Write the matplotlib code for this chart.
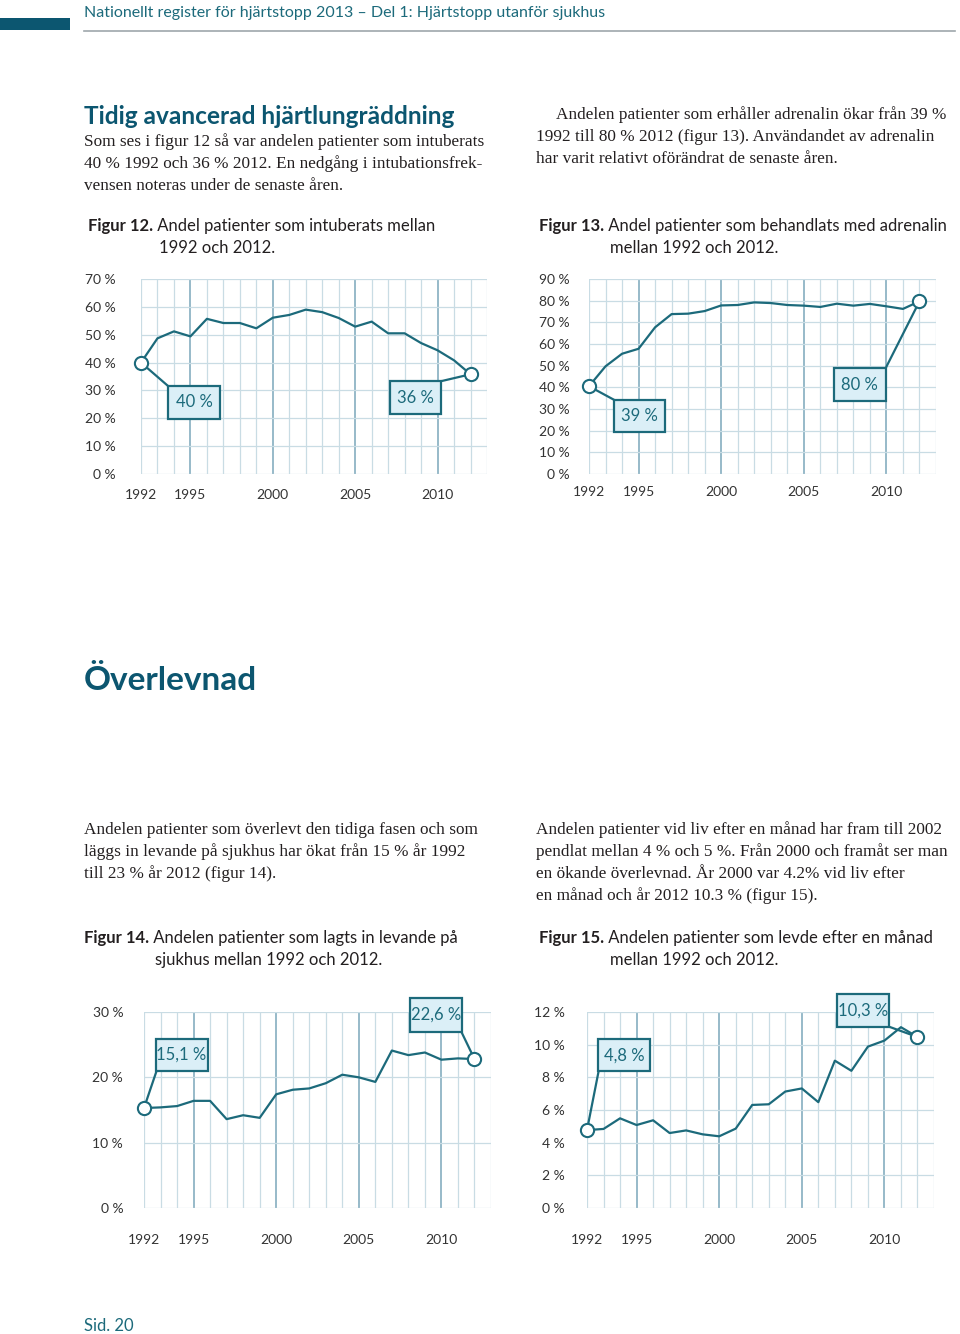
import numpy as np
import matplotlib
matplotlib.use("Agg")
import matplotlib.pyplot as plt
from matplotlib.patches import Rectangle

# Data (percent per year 1992-2012)
years = np.arange(1992, 2013)

intubated = [40, 48.7, 51.2, 49.4, 55.7, 54.2, 54.2, 52.3, 56.1, 57.1, 59.0,
             58.1, 56.0, 52.9, 54.7, 50.5, 50.5, 47.0, 44.4, 40.8, 35.8]
adrenalin = [40.5, 49.7, 55.5, 57.8, 67.7, 73.8, 74.0, 75.2, 77.8, 78.0, 79.2,
             78.9, 78.0, 77.7, 77.1, 78.6, 77.7, 78.5, 77.4, 76.2, 79.7]
admitted = [15.3, 15.4, 15.6, 16.4, 16.4, 13.6, 14.2, 13.8, 17.4, 18.1, 18.3,
            19.1, 20.4, 20.0, 19.3, 24.1, 23.4, 23.8, 22.7, 22.9, 22.8]
alive_month = [4.77, 4.84, 5.49, 5.08, 5.37, 4.59, 4.75, 4.51, 4.39, 4.86, 6.31,
               6.35, 7.13, 7.32, 6.48, 9.02, 8.40, 9.88, 10.25, 11.07, 10.47]

tick_years = [1992, 1995, 2000, 2005, 2010]

TEAL = '#1c6a7b'
DARK = '#0c5670'
BOX = '#dbeff7'
GRID = '#c9dce4'
GRID_MAJOR = '#8fb4c5'
INK = '#231f20'

SANS = 'Lato'
SERIF = 'Liberation Serif'

W, H = 960, 1334
fig = plt.figure(figsize=(W / 100, H / 100), dpi=100)
bg = fig.add_axes([0, 0, 1, 1])
bg.set_xlim(0, W)
bg.set_ylim(H, 0)
bg.axis('off')


def px_axes(left, top, right, bottom):
    return fig.add_axes([left / W, 1 - bottom / H, (right - left) / W, (bottom - top) / H])


def line_chart(rect, values, ymax, ystep, callouts, xpad, ypad):
    ax = px_axes(*rect)
    ax.set_xlim(1992, 2013)
    ax.set_ylim(0, ymax)
    for s in ax.spines.values():
        s.set_visible(False)
    for y in range(1992, 2014):
        major = y % 5 == 0
        ax.axvline(y, color=GRID_MAJOR if major else GRID, lw=1.3 if major else 0.9, zorder=0)
    yt = np.arange(0, ymax + ystep / 2, ystep)
    for v in yt:
        ax.axhline(v, color=GRID, lw=0.9, zorder=0)
    ax.set_yticks(yt)
    ax.set_yticklabels(['%d %%' % v for v in yt])
    ax.set_xticks(tick_years)
    ax.set_xticklabels([str(y) for y in tick_years])
    ax.tick_params(length=0, labelsize=10, labelcolor='#333333')
    ax.tick_params(axis='x', pad=xpad)
    ax.tick_params(axis='y', pad=ypad)
    for lab in ax.get_xticklabels() + ax.get_yticklabels():
        lab.set_family(SANS)

    ax.plot(years, values, color=TEAL, lw=1.6, zorder=3, solid_joinstyle='round')

    for text, idx, (x0, x1, y0, y1), (cx, cy) in callouts:
        ax.plot([years[idx], cx], [values[idx], cy], color=TEAL, lw=1.6, zorder=3, clip_on=False)
        ax.add_patch(Rectangle((x0, y0), x1 - x0, y1 - y0, facecolor=BOX, edgecolor=TEAL,
                               lw=1.6, zorder=4, clip_on=False))
        ax.text((x0 + x1) / 2, (y0 + y1) / 2, text, ha='center', va='center', color=TEAL,
                fontsize=12, family=SANS, zorder=5, clip_on=False)
        ax.plot(years[idx], values[idx], 'o', ms=9.5, mfc='white', mec=TEAL, mew=1.5,
                zorder=6, clip_on=False)
    return ax


line_chart((141, 279, 487, 474), intubated, 70, 10,
           [('40 %', 0, (1993.66, 1996.8, 19.9, 31.5), (1993.66, 31.5)),
            ('36 %', 20, (2007.1, 2010.2, 21.6, 33.3), (2010.2, 33.3))],
           xpad=11, ypad=18)
line_chart((589, 279, 936, 474), adrenalin, 90, 10,
           [('39 %', 0, (1993.5, 1996.6, 19.4, 34.3), (1993.5, 34.3)),
            ('80 %', 20, (2006.8, 2009.95, 33.8, 48.8), (2009.95, 48.8))],
           xpad=9, ypad=14)
line_chart((144, 1012, 491, 1208), admitted, 30, 10,
           [('15,1 %', 0, (1992.7, 1995.85, 20.9, 25.9), (1992.75, 20.9)),
            ('22,6 %', 20, (2008.1, 2011.25, 27.0, 32.1), (2011.2, 27.0))],
           xpad=19, ypad=15)
line_chart((587, 1012, 934, 1208), alive_month, 12, 2,
           [('4,8 %', 0, (1992.67, 1995.8, 8.36, 10.35), (1992.7, 8.36)),
            ('10,3 %', 20, (2007.14, 2010.28, 11.1, 13.1), (2010.28, 11.1))],
           xpad=19, ypad=16)

# Page header
bg.add_patch(Rectangle((0, 18), 70, 12, facecolor=DARK, edgecolor='none'))
bg.plot([84, 955], [30.5, 30.5], color='#9ea7ab', lw=1.2)
bg.text(84, 13, 'Nationellt register för hjärtstopp 2013 – Del 1: Hjärtstopp utanför sjukhus',
        color=TEAL, fontsize=11.5, family=SANS, va='center')

bg.text(84, 117, 'Tidig avancerad hjärtlungräddning', color=DARK, fontsize=17.6,
        family=SANS, weight='bold', va='center')


def para(x, y, lines, indent=0):
    for i, s in enumerate(lines):
        bg.text(x + (indent if i == 0 else 0), y + 22 * i, s, color=INK, fontsize=12.4,
                family=SERIF, va='center')


def caption(x, y, bold, rest, x2, line2):
    t = bg.text(x, y, bold, color=INK, fontsize=12, family=SANS, weight='bold', va='center')
    bg.annotate(' ' + rest, xy=(1, 0.5), xycoords=t, va='center', color=INK, fontsize=12,
                family=SANS)
    bg.text(x2, y + 22, line2, color=INK, fontsize=12, family=SANS, va='center')


para(84, 142, ['Som ses i figur 12 så var andelen patienter som intuberats',
               '40 % 1992 och 36 % 2012. En nedgång i intubationsfrek-',
               'vensen noteras under de senaste åren.'])
para(536, 115, ['Andelen patienter som erhåller adrenalin ökar från 39 %',
                '1992 till 80 % 2012 (figur 13). Användandet av adrenalin',
                'har varit relativt oförändrat de senaste åren.'], indent=20)
caption(88, 226, 'Figur 12.', 'Andel patienter som intuberats mellan', 159, '1992 och 2012.')
caption(539, 226, 'Figur 13.', 'Andel patienter som behandlats med adrenalin', 610,
        'mellan 1992 och 2012.')

bg.text(84, 680, 'Överlevnad', color=DARK, fontsize=24, family=SANS, weight='bold', va='center')

para(84, 830, ['Andelen patienter som överlevt den tidiga fasen och som',
               'läggs in levande på sjukhus har ökat från 15 % år 1992',
               'till 23 % år 2012 (figur 14).'])
para(536, 830, ['Andelen patienter vid liv efter en månad har fram till 2002',
                'pendlat mellan 4 % och 5 %. Från 2000 och framåt ser man',
                'en ökande överlevnad. År 2000 var 4.2% vid liv efter',
                'en månad och år 2012 10.3 % (figur 15).'])
caption(84, 938, 'Figur 14.', 'Andelen patienter som lagts in levande på', 155,
        'sjukhus mellan 1992 och 2012.')
caption(539, 938, 'Figur 15.', 'Andelen patienter som levde efter en månad', 610,
        'mellan 1992 och 2012.')

bg.text(84, 1326, 'Sid. 20', color=TEAL, fontsize=12, family=SANS, va='center')

fig.savefig('out.png', dpi=100)
